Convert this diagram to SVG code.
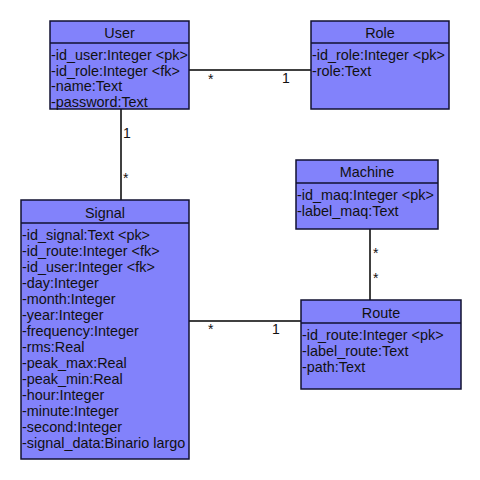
<svg xmlns="http://www.w3.org/2000/svg" width="480" height="480" viewBox="0 0 480 480">
<style>
.box{fill:#8282fb;stroke:#101030;stroke-width:1.5}
.t{font-family:"Liberation Sans",Arial,sans-serif;font-size:14.4px;fill:#111}
.c{text-anchor:middle}
.m{font-family:"Liberation Sans",Arial,sans-serif;font-size:14px;fill:#111}
.ln{stroke:#000;stroke-width:1.5;fill:none}
</style>
<rect width="480" height="480" fill="#fff"/>
<g id="connectors">
<line class="ln" x1="189" y1="70" x2="311" y2="70"/>
<line class="ln" x1="121" y1="109" x2="121" y2="200"/>
<line class="ln" x1="189" y1="321" x2="301" y2="321"/>
<line class="ln" x1="370" y1="229" x2="370" y2="300"/>
<text class="m" x="208" y="84">*</text>
<text class="m" x="282" y="83">1</text>
<text class="m" x="123" y="138">1</text>
<text class="m" x="123" y="183">*</text>
<text class="m" x="208" y="334">*</text>
<text class="m" x="272" y="334">1</text>
<text class="m" x="373" y="258">*</text>
<text class="m" x="373" y="283">*</text>
</g>
<g id="User">
<rect class="box" x="50" y="21" width="139" height="88"/>
<line class="box" x1="50" y1="43" x2="189" y2="43"/>
<text class="t c" x="119.5" y="38">User</text>
<text class="t" x="51" y="60">-id_user:Integer &lt;pk&gt;</text>
<text class="t" x="51" y="75.5">-id_role:Integer &lt;fk&gt;</text>
<text class="t" x="51" y="91">-name:Text</text>
<text class="t" x="51" y="107">-password:Text</text>
</g>
<g id="Role">
<rect class="box" x="311" y="21" width="138" height="88"/>
<line class="box" x1="311" y1="43" x2="449" y2="43"/>
<text class="t c" x="380" y="38">Role</text>
<text class="t" x="312" y="60">-id_role:Integer &lt;pk&gt;</text>
<text class="t" x="312" y="75.5">-role:Text</text>
</g>
<g id="Machine">
<rect class="box" x="296" y="160" width="142" height="69"/>
<line class="box" x1="296" y1="183" x2="438" y2="183"/>
<text class="t c" x="367" y="177">Machine</text>
<text class="t" x="297" y="200">-id_maq:Integer &lt;pk&gt;</text>
<text class="t" x="297" y="215.5">-label_maq:Text</text>
</g>
<g id="Route">
<rect class="box" x="301" y="300" width="160" height="89"/>
<line class="box" x1="301" y1="323" x2="461" y2="323"/>
<text class="t c" x="381" y="318">Route</text>
<text class="t" x="302" y="340">-id_route:Integer &lt;pk&gt;</text>
<text class="t" x="302" y="356">-label_route:Text</text>
<text class="t" x="302" y="372">-path:Text</text>
</g>
<g id="Signal">
<rect class="box" x="21" y="200" width="168" height="259"/>
<line class="box" x1="21" y1="223" x2="189" y2="223"/>
<text class="t c" x="105" y="218">Signal</text>
<text class="t" x="22" y="240">-id_signal:Text &lt;pk&gt;</text>
<text class="t" x="22" y="256">-id_route:Integer &lt;fk&gt;</text>
<text class="t" x="22" y="272">-id_user:Integer &lt;fk&gt;</text>
<text class="t" x="22" y="288">-day:Integer</text>
<text class="t" x="22" y="304">-month:Integer</text>
<text class="t" x="22" y="320">-year:Integer</text>
<text class="t" x="22" y="336">-frequency:Integer</text>
<text class="t" x="22" y="352">-rms:Real</text>
<text class="t" x="22" y="368">-peak_max:Real</text>
<text class="t" x="22" y="384">-peak_min:Real</text>
<text class="t" x="22" y="400">-hour:Integer</text>
<text class="t" x="22" y="416">-minute:Integer</text>
<text class="t" x="22" y="432">-second:Integer</text>
<text class="t" x="22" y="448">-signal_data:Binario largo</text>
</g>
</svg>
